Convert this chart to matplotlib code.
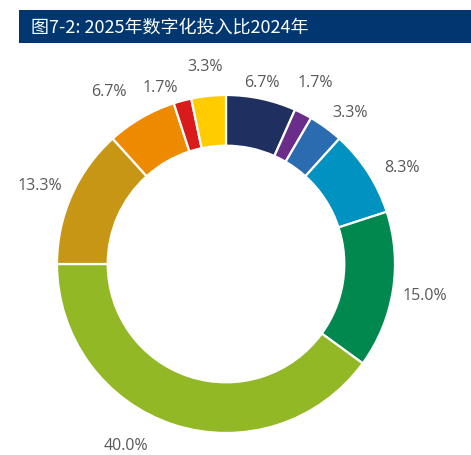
import numpy as np
import matplotlib
matplotlib.use('Agg')
import matplotlib.pyplot as plt
from matplotlib.patches import Rectangle

# data, clockwise from 12 o'clock
values = [6.7, 1.7, 3.3, 8.3, 15.0, 40.0, 13.3, 6.7, 1.7, 3.3]
labels = ['6.7%', '1.7%', '3.3%', '8.3%', '15.0%', '40.0%', '13.3%', '6.7%', '1.7%', '3.3%']
colors = ['#1f2f5f', '#6a2d8a', '#2b6cb0', '#0092c0', '#00884f',
          '#93b826', '#c69614', '#ee8a00', '#d91b1b', '#ffcc00']
title = '图7-2: 2025年数字化投入比2024年'

# label placement tweaks (Excel moved a few of them)
label_r = [1.10, 1.20, 1.16, 1.19, 1.19, 1.225, 1.195, 1.235, 1.12, 1.18]
label_shift = [-1, -1, 3, 4, 0, 11, -1, -4, -5.5, 0]

W, H = 471, 456
cx, cy, R = 226, 265, 169

fig = plt.figure(figsize=(W / 100, H / 100), dpi=100)
fig.patch.set_facecolor('white')

# title bar
fig.patches.append(Rectangle((19 / W, 1 - 44 / H), 1 - 19 / W, 33 / H,
                             transform=fig.transFigure, facecolor='#003770',
                             edgecolor='none', zorder=0))
fig.text(31 / W, 1 - 27.5 / H, title, color='white', fontsize=13,
         family=['Noto Sans CJK SC', 'DejaVu Sans'], va='center', ha='left')

ax = fig.add_axes([0, 0, 1, 1])
ax.axis('off')

wedges, _ = ax.pie(values, colors=colors, startangle=90, counterclock=False,
                   radius=1.0, wedgeprops=dict(width=0.30, edgecolor='white', linewidth=1.6))

ax.set_aspect('equal')
ax.set_xlim(-cx / R, (W - cx) / R)
ax.set_ylim(-(H - cy) / R, cy / R)

cum = np.cumsum([0] + values[:-1])
for v, c0, lab, r, s in zip(values, cum, labels, label_r, label_shift):
    ang = np.deg2rad((c0 + v / 2) / 100 * 360 + s)
    ax.text(r * np.sin(ang), r * np.cos(ang), lab, ha='center', va='center',
            fontsize=11.5, color='#595959', family='Open Sans')

fig.savefig('out.png', dpi=100)
